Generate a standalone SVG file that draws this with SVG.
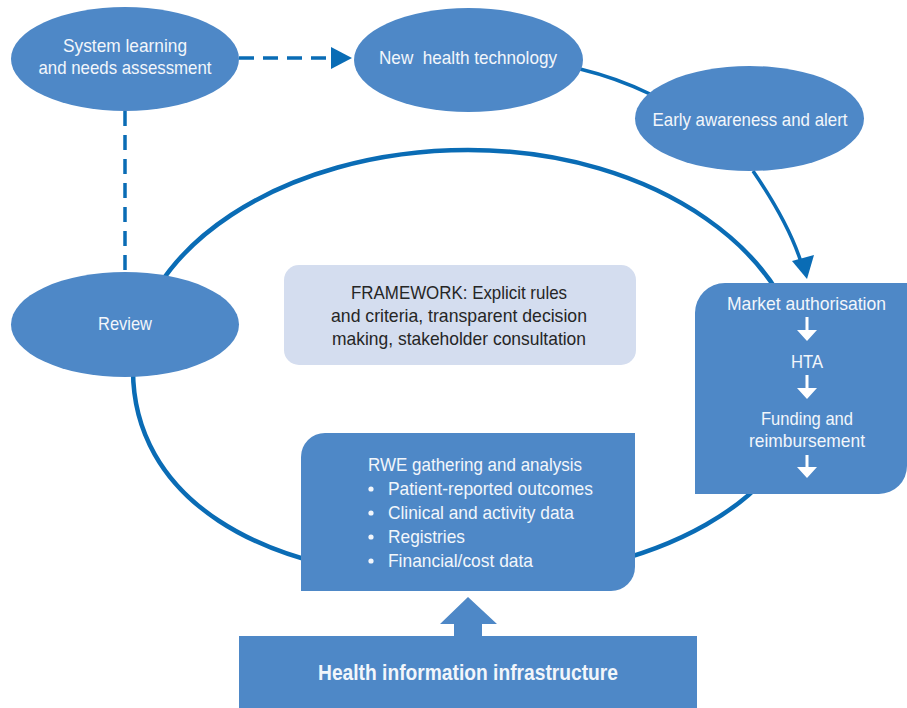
<svg xmlns="http://www.w3.org/2000/svg" width="907" height="708" viewBox="0 0 907 708">
<style>
.node{fill:#4e88c7}
.t{font-family:"Liberation Sans Narrow","Liberation Sans",Arial,sans-serif;font-size:19px;fill:#f2f6fb;text-anchor:middle}
.tl{font-family:"Liberation Sans Narrow","Liberation Sans",Arial,sans-serif;font-size:19px;fill:#f2f6fb}
.fw{font-family:"Liberation Sans Narrow","Liberation Sans",Arial,sans-serif;font-size:19px;fill:#262626;text-anchor:middle}
.tb{font-family:"Liberation Sans Narrow","Liberation Sans",Arial,sans-serif;font-size:22px;font-weight:bold;fill:#f2f6fb;text-anchor:middle}
.line{fill:none;stroke:#0a6cb5;stroke-width:3.5}
.dash{fill:none;stroke:#0a6cb5;stroke-width:3.5;stroke-dasharray:15 9}
.head{fill:#0a6cb5}
.wa{fill:#ffffff}
</style>
<g id="connectors">
  <path id="loop" d="M468,150 C654,150 805,255 805,385 C805,497 654,580 468,580 C250,580 133,492 133,370 C133,250 283,150 468,150 Z" fill="none" stroke="#0a6cb5" stroke-width="4.5"/>
  <path class="dash" d="M239,58 H333"/>
  <polygon class="head" points="331,47 352,58 331,69"/>
  <path class="dash" d="M125,111 V272"/>
  <path class="line" d="M580,69 Q617,78 650,94"/>
  <path class="line" d="M753,171 Q788,222 801,262"/>
  <polygon class="head" points="792,261 814,255 807,279"/>
</g>
<g id="system-learning">
  <ellipse class="node" cx="125" cy="59" rx="114" ry="52"/>
  <text class="t" x="125" y="52" textLength="124" lengthAdjust="spacingAndGlyphs">System learning</text>
  <text class="t" x="125" y="74" textLength="173" lengthAdjust="spacingAndGlyphs">and needs assessment</text>
</g>
<g id="new-health-technology">
  <ellipse class="node" cx="468.5" cy="60" rx="114.5" ry="52"/>
  <text class="t" x="468" y="64" textLength="178" lengthAdjust="spacingAndGlyphs" xml:space="preserve">New  health technology</text>
</g>
<g id="early-awareness">
  <ellipse class="node" cx="749.5" cy="118.5" rx="114.5" ry="52.5"/>
  <text class="t" x="750" y="126" textLength="195" lengthAdjust="spacingAndGlyphs">Early awareness and alert</text>
</g>
<g id="review">
  <ellipse class="node" cx="125" cy="324.5" rx="114" ry="52.5"/>
  <text class="t" x="125" y="330" textLength="54" lengthAdjust="spacingAndGlyphs">Review</text>
</g>
<g id="framework">
  <rect x="284" y="265" width="352" height="100" rx="15" fill="#d4ddef"/>
  <text class="fw" x="459" y="299" textLength="216" lengthAdjust="spacingAndGlyphs">FRAMEWORK: Explicit rules</text>
  <text class="fw" x="459" y="322" textLength="256" lengthAdjust="spacingAndGlyphs">and criteria, transparent decision</text>
  <text class="fw" x="459" y="345" textLength="254" lengthAdjust="spacingAndGlyphs">making, stakeholder consultation</text>
</g>
<g id="market-authorisation">
  <path class="node" d="M725,283 H907 V466 A28,28 0 0 1 879,494 H695 V313 A30,30 0 0 1 725,283 Z"/>
  <text class="t" x="806.5" y="310" textLength="159" lengthAdjust="spacingAndGlyphs">Market authorisation</text>
  <polygon class="wa" points="805.5,317 808.5,317 808.5,330 817,330 807,341 797,330 805.5,330"/>
  <text class="t" x="807" y="368" textLength="32" lengthAdjust="spacingAndGlyphs">HTA</text>
  <polygon class="wa" points="805.5,375 808.5,375 808.5,388 817,388 807,399 797,388 805.5,388"/>
  <text class="t" x="807" y="425" textLength="92" lengthAdjust="spacingAndGlyphs">Funding and</text>
  <text class="t" x="807" y="447" textLength="116" lengthAdjust="spacingAndGlyphs">reimbursement</text>
  <polygon class="wa" points="805.5,455 808.5,455 808.5,467 817,467 807,478 797,467 805.5,467"/>
</g>
<g id="rwe">
  <path class="node" d="M325,433 H635 V567 A24,24 0 0 1 611,591 H301 V457 A24,24 0 0 1 325,433 Z"/>
  <text class="tl" x="368" y="471" textLength="214" lengthAdjust="spacingAndGlyphs">RWE gathering and analysis</text>
  <circle cx="371" cy="489" r="2.6" fill="#f2f6fb"/>
  <text class="tl" x="388" y="495" textLength="205" lengthAdjust="spacingAndGlyphs">Patient-reported outcomes</text>
  <circle cx="371" cy="513" r="2.6" fill="#f2f6fb"/>
  <text class="tl" x="388" y="519" textLength="186" lengthAdjust="spacingAndGlyphs">Clinical and activity data</text>
  <circle cx="371" cy="537" r="2.6" fill="#f2f6fb"/>
  <text class="tl" x="388" y="543" textLength="77" lengthAdjust="spacingAndGlyphs">Registries</text>
  <circle cx="371" cy="561" r="2.6" fill="#f2f6fb"/>
  <text class="tl" x="388" y="567" textLength="145" lengthAdjust="spacingAndGlyphs">Financial/cost data</text>
</g>
<g id="health-information-infrastructure">
  <polygon class="node" points="468,597 497,624 482,624 482,637 454,637 454,624 440,624"/>
  <rect class="node" x="239" y="636" width="458" height="72"/>
  <text class="tb" x="468" y="680" textLength="300" lengthAdjust="spacingAndGlyphs">Health information infrastructure</text>
</g>
</svg>
